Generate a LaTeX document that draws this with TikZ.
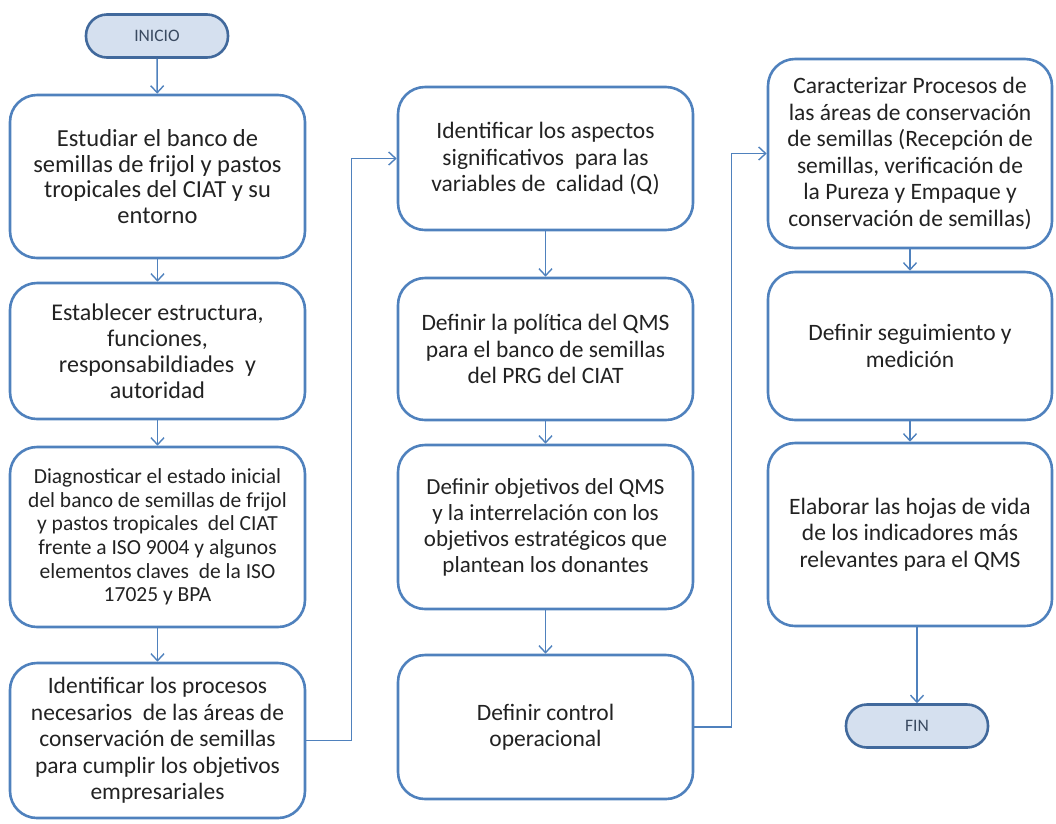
\documentclass[tikz,border=0pt]{standalone}
\usepackage{fontspec}
\setmainfont{Carlito}
\usetikzlibrary{arrows.meta}
\definecolor{boxblue}{HTML}{4F81BD}
\definecolor{termfill}{HTML}{D5E0EF}
\definecolor{termline}{HTML}{41699C}
\definecolor{txt}{HTML}{222222}
\definecolor{termtxt}{HTML}{3A4A60}
\begin{document}
\begin{tikzpicture}[x=1pt,y=-1pt,
  stepbox/.style={draw=boxblue, line width=2.6pt, rounded corners=27pt, align=center,
    text=txt, inner sep=0pt, font=\fontsize{23.5}{26.5}\selectfont},
  term/.style={draw=termline, fill=termfill, line width=2.6pt, rounded corners=21pt,
    minimum width=142pt, minimum height=43pt, text=termtxt, inner sep=0pt,
    font=\fontsize{17.5}{19}\selectfont},
  flow/.style={draw=boxblue, line width=1.4pt, -{Straight Barb[length=7pt,width=13pt]}}]
\useasboundingbox (0,0) rectangle (1056,823);

% start / end terminals
\node[term] (inicio) at (157,36) {INICIO};
\node[term] (fin) at (917,726) {FIN};

% first column
\node[stepbox, minimum width=295pt, minimum height=163pt, font=\fontsize{24.5}{25.5}\selectfont]
  (b1) at (157.5,176.5) {Estudiar el banco de\\semillas de frijol y pastos\\tropicales del CIAT y su\\entorno};
\node[stepbox, minimum width=295pt, minimum height=136pt, font=\fontsize{24}{26}\selectfont]
  (b2) at (157.5,351) {Establecer estructura,\\funciones,\\responsabildiades\ \ y\\autoridad};
\node[stepbox, minimum width=295pt, minimum height=180pt, font=\fontsize{21.5}{23.6}\selectfont]
  (b3) at (157.5,537) {Diagnosticar el estado inicial\\del banco de semillas de frijol\\y pastos tropicales\ \ del CIAT\\frente a ISO 9004 y algunos\\elementos claves\ \ de la ISO\\17025 y BPA};
\node[stepbox, minimum width=295pt, minimum height=155pt]
  (b4) at (157.5,740.5) {Identificar los procesos\\necesarios\ \ de las áreas de\\conservación de semillas\\para cumplir los objetivos\\empresariales};

% second column
\node[stepbox, minimum width=295pt, minimum height=143pt]
  (b5) at (545.5,158.5) {Identificar los aspectos\\significativos\ \ para las\\variables de\ \ calidad (Q)};
\node[stepbox, minimum width=295pt, minimum height=142pt]
  (b6) at (545.5,349) {Definir la política del QMS\\para el banco de semillas\\del PRG del CIAT};
\node[stepbox, minimum width=295pt, minimum height=164pt, font=\fontsize{23}{26}\selectfont]
  (b7) at (545.5,527) {Definir objetivos del QMS\\y la interrelación con los\\objetivos estratégicos que\\plantean los donantes};
\node[stepbox, minimum width=295pt, minimum height=144pt]
  (b8) at (545.5,727) {Definir control\\operacional};

% third column
\node[stepbox, minimum width=284pt, minimum height=189pt]
  (b9) at (910,153.5) {Caracterizar Procesos de\\las áreas de conservación\\de semillas (Recepción de\\semillas, verificación de\\la Pureza y Empaque y\\conservación de semillas)};
\node[stepbox, minimum width=284pt, minimum height=148pt]
  (b10) at (910,346) {Definir seguimiento y\\medición};
\node[stepbox, minimum width=284pt, minimum height=183pt]
  (b11) at (910,534.5) {Elaborar las hojas de vida\\de los indicadores más\\relevantes para el QMS};

% connectors
\draw[flow] (inicio) -- (b1);
\draw[flow] (b1) -- (b2);
\draw[flow] (b2) -- (b3);
\draw[flow] (b3) -- (b4);
\draw[flow] (b4.east) -- ++(45,0) |- (b5.west);
\draw[flow] (b5) -- (b6);
\draw[flow] (b6) -- (b7);
\draw[flow] (b7) -- (b8);
\draw[flow] (b8.east) -- ++(37,0) |- (b9.west);
\draw[flow] (b9) -- (b10);
\draw[flow] (b10) -- (b11);
\draw[flow] (b11.south -| fin) -- (fin);
\end{tikzpicture}
\end{document}
